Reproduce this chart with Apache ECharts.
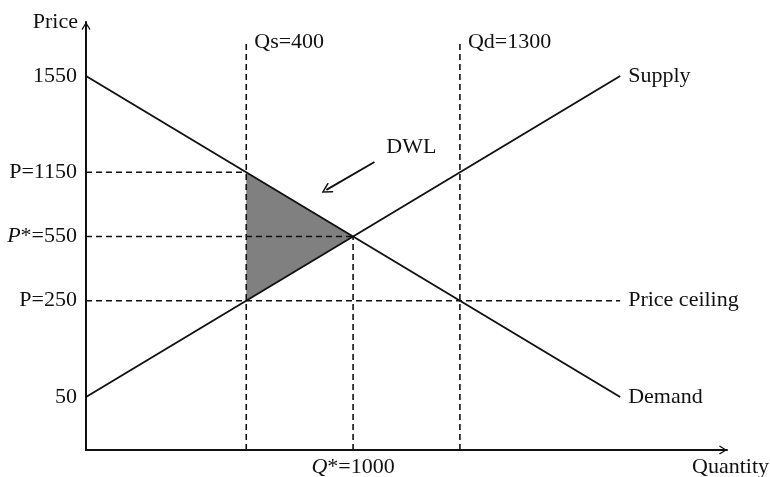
<!DOCTYPE html>
<html>
<head>
<meta charset="utf-8">
<script src="https://cdn.jsdelivr.net/npm/echarts@6/dist/echarts.min.js"></script>
<style>
html, body { margin: 0; padding: 0; background: #fff; }
#container { width: 770px; height: 477px; }
</style>
</head>
<body>
<div id="container"></div>
<script>
// schematic units (the diagram is not to scale): x steps of 1, y steps of 1
var qPos = [3, 5, 7];
var qLabels = ['Qs=400', '{i|Q}*=1000', 'Qd=1300'];
var pPos = [1.65, 4.65, 6.65, 8.65, 11.65];
var pLabels = ['50', 'P=250', '{i|P}*=550', 'P=1150', '1550'];

var supplyX = [0, 10];
var supplyY = [1.65, 11.65];
var demandX = [0, 10];
var demandY = [11.65, 1.65];

var dwlX = [3, 5, 3];
var dwlY = [8.65, 6.65, 4.65];
var dwlArrowFrom = [5.4, 8.97];
var dwlArrowTo = [4.5, 8.1];
var dwlTextAt = [6.09, 9.44];

var guideTop = 12.7;
var ceilingEnd = 10;

var FONT = 'Liberation Serif';
var FS = 22;
var INK = '#111';
var chevron = 'path://M5,0 L10,8 L9,9 L5,2.4 L1,9 L0,8 Z';

function dashed(name, xs, ys, endText) {
	var s = {
		name: name,
		type: 'line',
		symbol: 'none',
		silent: true,
		z: 3,
		lineStyle: { color: INK, width: 1.6, type: [6, 4] },
		data: xs.map(function(x, i) { return [x, ys[i]]; })
	};
	if (endText) {
		s.endLabel = { show: true, formatter: endText, distance: 8, color: INK, fontFamily: FONT, fontSize: FS };
	}
	return s;
}

function solid(name, xs, ys) {
	return {
		name: name,
		type: 'line',
		symbol: 'none',
		silent: true,
		z: 4,
		lineStyle: { color: INK, width: 1.9 },
		endLabel: { show: true, formatter: name, distance: 8, color: INK, fontFamily: FONT, fontSize: FS },
		data: xs.map(function(x, i) { return [x, ys[i]]; })
	};
}

function pickLabel(v, pos, labels) {
	var best = 0;
	for (var i = 1; i < pos.length; i++) {
		if (Math.abs(pos[i] - v) < Math.abs(pos[best] - v)) best = i;
	}
	return labels[best];
}

var richItalic = { i: { fontFamily: FONT, fontSize: FS, fontStyle: 'italic', color: INK } };

var myChart = echarts.init(document.getElementById('container'));

var option = {
	animation: false,
	backgroundColor: '#fff',
	grid: { left: 86, right: 43, top: 22, bottom: 27, outerBoundsMode: 'none' },
	xAxis: {
		type: 'value',
		min: 0,
		max: 12,
		name: 'Quantity',
		nameLocation: 'end',
		nameGap: 42,
		nameTextStyle: { fontFamily: FONT, fontSize: FS, color: INK, align: 'right', verticalAlign: 'top', padding: [6, 0, 0, 0] },
		axisLine: { lineStyle: { color: INK, width: 2 }, symbol: ['none', chevron], symbolSize: [10, 8], symbolOffset: [0, -4] },
		axisTick: { show: false },
		splitLine: { show: false },
		axisLabel: {
			customValues: [qPos[1]],
			formatter: function(v) { return pickLabel(v, qPos, qLabels); },
			margin: 6,
			fontFamily: FONT,
			fontSize: FS,
			color: INK,
			rich: richItalic
		}
	},
	yAxis: {
		type: 'value',
		min: 0,
		max: 13.33,
		name: 'Price',
		nameLocation: 'end',
		nameGap: 0,
		nameTextStyle: { fontFamily: FONT, fontSize: FS, color: INK, align: 'right', verticalAlign: 'middle', padding: [0, 8, 0, 0] },
		axisLine: { lineStyle: { color: INK, width: 2 }, symbol: ['none', chevron], symbolSize: [10, 8], symbolOffset: [0, -4] },
		axisTick: { show: false },
		splitLine: { show: false },
		axisLabel: {
			customValues: pPos,
			formatter: function(v) { return pickLabel(v, pPos, pLabels); },
			margin: 9,
			fontFamily: FONT,
			fontSize: FS,
			color: INK,
			rich: richItalic
		}
	},
	series: [{
		name: 'DWL area',
		type: 'custom',
		silent: true,
		z: 1,
		data: [[dwlX[0], dwlY[0]]],
		encode: { x: 0, y: 1 },
		renderItem: function(params, api) {
			var pts = dwlX.map(function(x, i) { return api.coord([x, dwlY[i]]); });
			return {
				type: 'polygon',
				shape: { points: pts },
				style: { fill: '#808080', stroke: null }
			};
		}
	},
		dashed('Qs', [qPos[0], qPos[0]], [0, guideTop], qLabels[0]),
		dashed('Qd', [qPos[2], qPos[2]], [0, guideTop], qLabels[2]),
		dashed('Qstar', [qPos[1], qPos[1]], [0, pPos[2]]),
		dashed('P1150', [0, qPos[0]], [pPos[3], pPos[3]]),
		dashed('Pstar', [0, qPos[1]], [pPos[2], pPos[2]]),
		dashed('Ceiling', [0, ceilingEnd], [pPos[1], pPos[1]], 'Price ceiling'),
		solid('Supply', supplyX, supplyY),
		solid('Demand', demandX, demandY),
	{
		name: 'DWL',
		type: 'scatter',
		silent: true,
		symbolSize: 0,
		z: 5,
		itemStyle: { opacity: 1 },
		label: { show: true, position: 'inside', formatter: 'DWL', color: INK, fontFamily: FONT, fontSize: FS },
		data: [dwlTextAt],
		markLine: {
			silent: true,
			animation: false,
			symbol: ['none', chevron],
			symbolSize: [11, 11],
			label: { show: false },
			lineStyle: { color: INK, width: 1.9, type: 'solid' },
			data: [[{ coord: dwlArrowFrom }, { coord: dwlArrowTo }]]
		}
	}]
};

if (option && typeof option === 'object') {
	myChart.setOption(option, true);
}
</script>
</body>
</html>
